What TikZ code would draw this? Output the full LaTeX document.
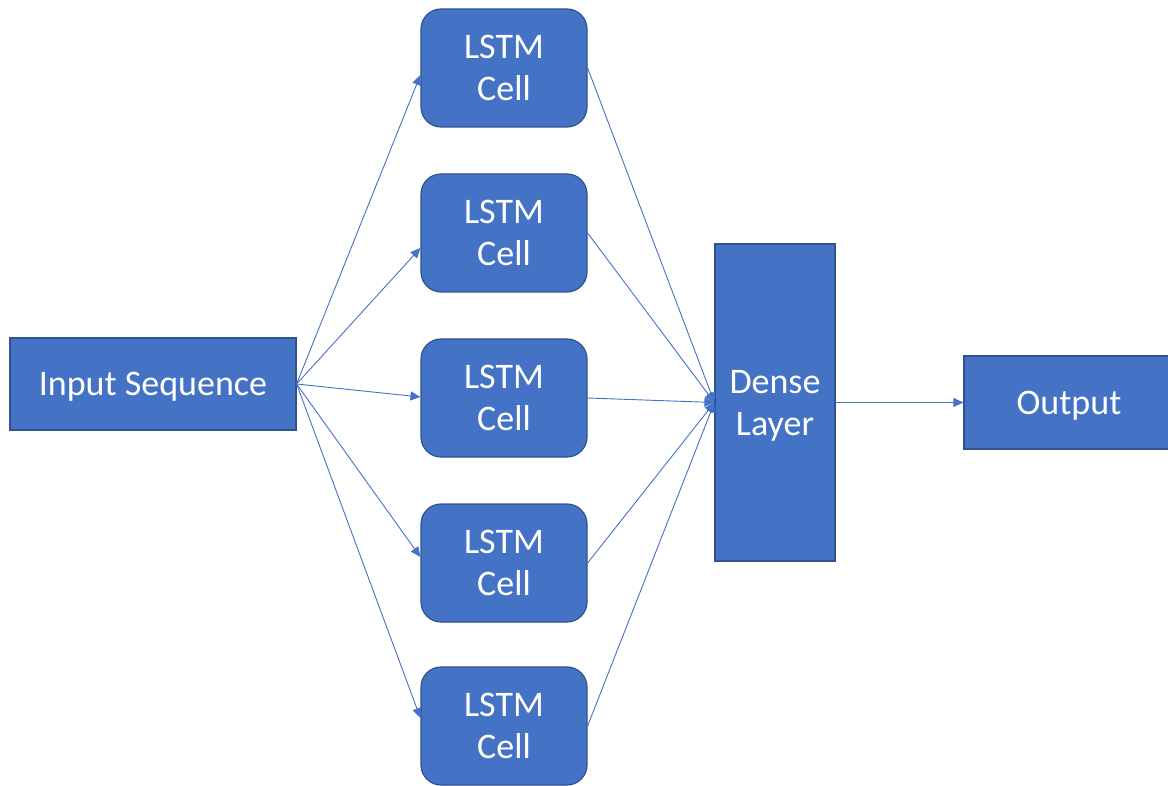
\documentclass[tikz,border=0pt]{standalone}
\usepackage{fontspec}
\setmainfont{Carlito}
\usetikzlibrary{arrows.meta,calc}
\definecolor{boxfill}{HTML}{4472C4}
\definecolor{boxedge}{HTML}{2F528F}
\begin{document}
\begin{tikzpicture}[x=1pt,y=-1pt,
  block/.style={draw=boxedge, line width=1.2pt, fill=boxfill, text=white,
    font=\fontsize{36}{42}\selectfont, align=center, inner sep=0pt},
  cell/.style={block, rounded corners=20pt, minimum width=166pt, minimum height=118pt},
  link/.style={draw=boxfill, line width=0.9pt, -{Triangle[length=10pt,width=9pt]}}]
  \useasboundingbox (0,0) rectangle (1168,786);

  % input and LSTM column
  \node[block, text depth=0pt, minimum width=286pt, minimum height=92pt] (inp) at (153,384) {Input Sequence};
  \node[cell] (c1) at (504,68)  {LSTM\\Cell};
  \node[cell] (c2) at (504,233) {LSTM\\Cell};
  \node[cell] (c3) at (504,398) {LSTM\\Cell};
  \node[cell] (c4) at (504,563) {LSTM\\Cell};
  \node[cell] (c5) at (504,726) {LSTM\\Cell};

  % dense layer and output
  \node[block, text depth=0pt, minimum width=120pt, minimum height=317pt] (dense) at (775,402.5) {Dense\\Layer};
  \node[block, text depth=0pt, minimum width=210pt, minimum height=93pt] (out) at (1069,402.5) {Output};

  % fan-out from the input
  \draw[link] (inp.east) -- ($(c1.west)+(0,7)$);
  \draw[link] (inp.east) -- ($(c2.west)+(0,15)$);
  \draw[link] (inp.east) -- ($(c3.west)+(0,-1)$);
  \draw[link] (inp.east) -- ($(c4.west)+(0,-6)$);
  \draw[link] (inp.east) -- ($(c5.west)+(0,-8)$);

  % fan-in to the dense layer
  \foreach \c in {c1,c2,c3,c4,c5}
    \draw[link] (\c.east) -- (dense.west);

  \draw[link] (dense.east) -- (out.west);
\end{tikzpicture}
\end{document}
